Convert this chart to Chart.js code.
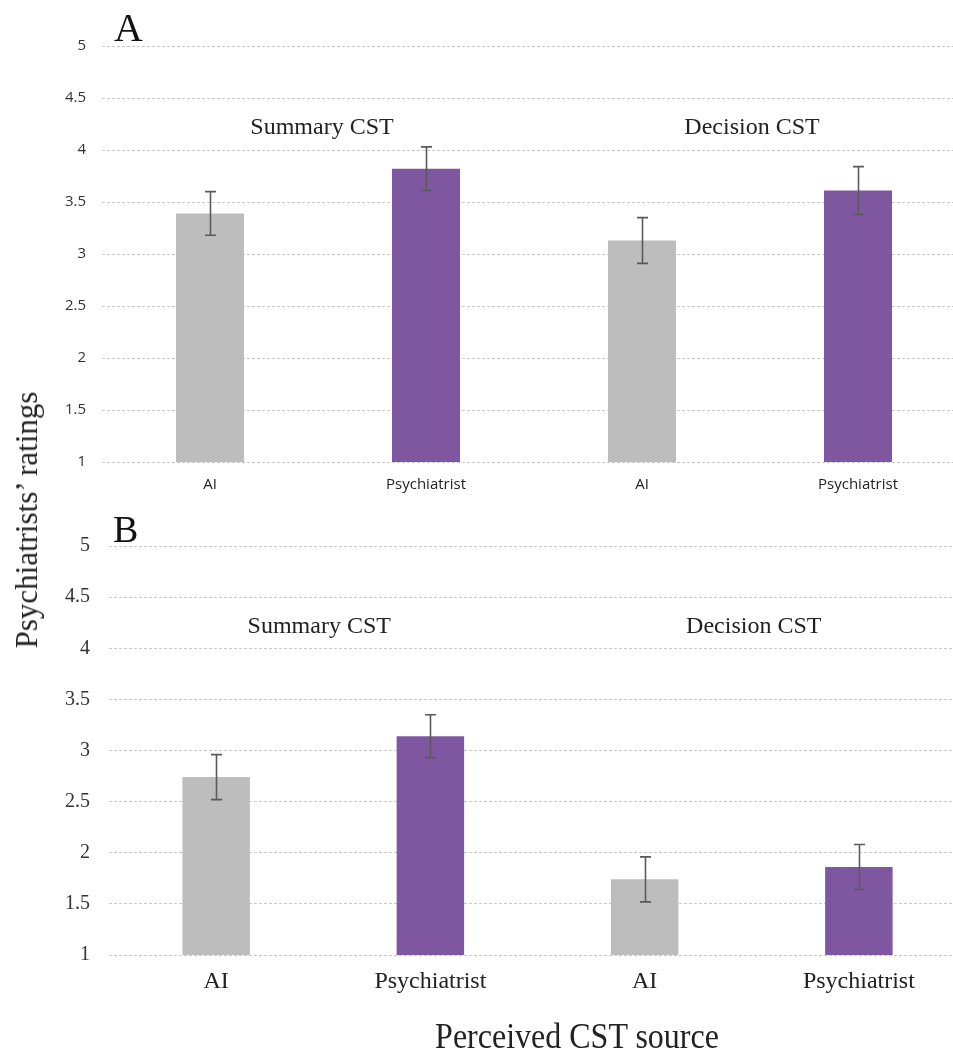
<!DOCTYPE html>
<html>
<head>
<meta charset="utf-8">
<script src="https://cdn.jsdelivr.net/npm/chart.js@4.4.1/dist/chart.umd.min.js"></script>
<style>
  html, body { margin: 0; padding: 0; background: #fff; overflow: hidden; }
  body { width: 953px; height: 1054px; position: relative; }
  .panel { position: absolute; left: 0; width: 966px; }
  #panel-a { top: 0; height: 505px; }
  #panel-b { top: 505px; height: 549px; }
  .letter { position: absolute; font-family: "Liberation Serif", serif; color: #111; line-height: 1; }
  #y-title {
    position: absolute; left: 27px; top: 520px;
    transform: translate(-50%, -50%) rotate(-90deg);
    font-family: "Liberation Serif", serif; font-size: 31px; color: #222; white-space: nowrap;
  }
  #x-title {
    position: absolute; left: 577px; top: 1036px;
    transform: translate(-50%, -50%) scaleY(1.15);
    font-family: "Liberation Serif", serif; font-size: 32px; color: #222; white-space: nowrap;
  }
</style>
</head>
<body>
  <div class="panel" id="panel-a"><canvas id="chart-a"></canvas></div>
  <div class="panel" id="panel-b"><canvas id="chart-b"></canvas></div>
  <div class="letter" style="left:114px; top:8px; font-size:40px;">A</div>
  <div class="letter" style="left:113px; top:510px; font-size:38px;">B</div>
  <div id="y-title">Psychiatrists’ ratings</div>
  <div id="x-title">Perceived CST source</div>

<script>
/* ---- data ---- */
const sources = ['AI', 'Psychiatrist', 'AI', 'Psychiatrist'];
const groupNames = ['Summary CST', 'Decision CST'];

const ratingsA = [3.39, 3.82, 3.13, 3.61];
const errorsA  = [0.21, 0.21, 0.22, 0.23];

const ratingsB = [2.74, 3.14, 1.74, 1.86];
const errorsB  = [0.22, 0.21, 0.22, 0.22];

const yMin = 1, yMax = 5, yStep = 0.5;

const GREY = '#bdbdbd';
const PURPLE = '#7f56a0';
const barColors = [GREY, PURPLE, GREY, PURPLE];

/* ---- error bars + group captions ---- */
const extrasPlugin = {
  id: 'extras',
  afterDatasetsDraw(chart, args, opts) {
    const { ctx, scales: { x, y } } = chart;
    const values = chart.data.datasets[0].data;
    ctx.save();

    // error bars
    ctx.strokeStyle = '#5a5a5a';
    ctx.lineWidth = 1.6;
    chart.getDatasetMeta(0).data.forEach((bar, i) => {
      const top = y.getPixelForValue(values[i] + opts.errors[i]);
      const bot = y.getPixelForValue(values[i] - opts.errors[i]);
      const cx = Math.round(bar.x) + 0.5;
      ctx.beginPath();
      ctx.moveTo(cx, top); ctx.lineTo(cx, bot);
      ctx.moveTo(cx - 5.5, top); ctx.lineTo(cx + 5.5, top);
      ctx.moveTo(cx - 5.5, bot); ctx.lineTo(cx + 5.5, bot);
      ctx.stroke();
    });

    // group captions, centred between each pair of bars
    ctx.fillStyle = '#222';
    ctx.font = opts.captionFont;
    ctx.textAlign = 'center';
    ctx.textBaseline = 'middle';
    groupNames.forEach((name, g) => {
      const cx = (x.getPixelForValue(g * 2) + x.getPixelForValue(g * 2 + 1)) / 2;
      ctx.fillText(name, cx + opts.captionShift[g], y.getPixelForValue(opts.captionLevel));
    });
    ctx.restore();
  }
};

function makePanel(canvasId, values, errors, cfg) {
  return new Chart(document.getElementById(canvasId), {
    type: 'bar',
    data: {
      labels: sources,
      datasets: [{
        data: values,
        backgroundColor: barColors,
        borderWidth: 0,
        barPercentage: 0.315,
        categoryPercentage: 1
      }]
    },
    options: {
      responsive: true,
      maintainAspectRatio: false,
      animation: false,
      layout: { padding: { top: cfg.top, left: 0, right: 0, bottom: 0 } },
      scales: {
        y: {
          min: yMin,
          max: yMax,
          afterFit: (scale) => { scale.width = cfg.yWidth; },
          ticks: {
            stepSize: yStep,
            padding: cfg.yPad,
            color: '#333',
            font: cfg.tickFont,
            callback: (v) => String(v)   // 5, 4.5, 4 ... like the original
          },
          grid: { color: '#c9c9c9', lineWidth: 1, drawTicks: false },
          border: { display: false, dash: [3, 2] }
        },
        x: {
          afterFit: (scale) => { scale.height = cfg.xHeight; },
          ticks: {
            padding: cfg.xPad,
            color: '#222',
            font: cfg.labelFont
          },
          grid: { display: false, drawTicks: false },
          border: { display: false }
        }
      },
      plugins: {
        legend: { display: false },
        tooltip: { enabled: false },
        extras: {
          errors: errors,
          captionFont: cfg.captionFont,
          captionLevel: 4.21,
          captionShift: cfg.captionShift
        }
      }
    },
    plugins: [extrasPlugin]
  });
}

// Panel A: sans-serif ticks
makePanel('chart-a', ratingsA, errorsA, {
  top: 46, yWidth: 102, yPad: 16, xHeight: 43, xPad: 14,
  tickFont: { family: '"Open Sans", sans-serif', size: 15 },
  labelFont: { family: '"Open Sans", sans-serif', size: 15 },
  captionFont: '24px "Liberation Serif", serif',
  captionShift: [4, 2]
});

// Panel B: serif ticks
makePanel('chart-b', ratingsB, errorsB, {
  top: 41, yWidth: 109, yPad: 19, xHeight: 99, xPad: 12,
  tickFont: { family: '"Liberation Serif", serif', size: 20 },
  labelFont: { family: '"Liberation Serif", serif', size: 24 },
  captionFont: '24px "Liberation Serif", serif',
  captionShift: [-4, 2]
});
</script>
</body>
</html>
